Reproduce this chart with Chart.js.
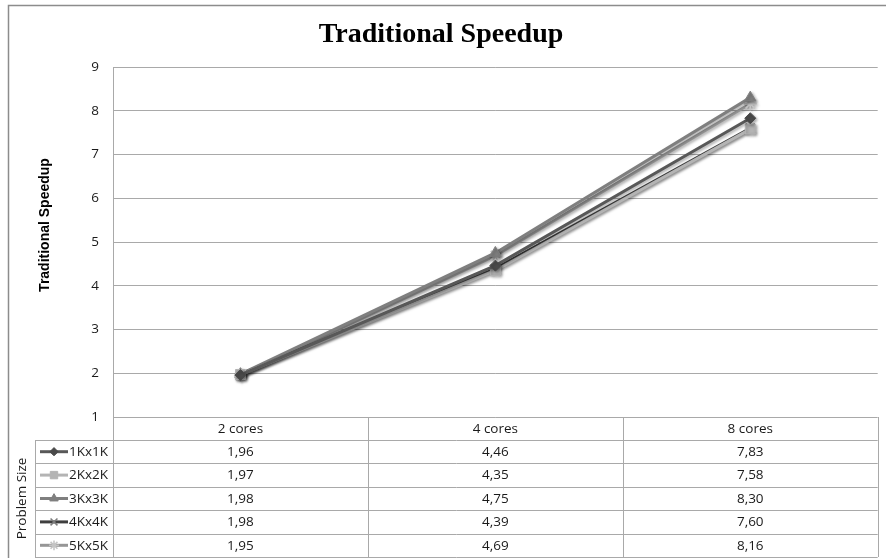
<!DOCTYPE html>
<html>
<head>
<meta charset="utf-8">
<script src="https://cdn.jsdelivr.net/npm/chart.js@4/dist/chart.umd.min.js"></script>
<style>
  html, body { margin: 0; padding: 0; background: #ffffff; }
  #wrap { width: 886px; height: 558px; position: relative; }
</style>
</head>
<body>
<div id="wrap"><canvas id="c" width="886" height="558"></canvas></div>
<script>
// Core counts along the x axis
const categories = ['2 cores', '4 cores', '8 cores'];

// Speedup per problem size
const size1K = [1.96, 4.46, 7.83];
const size2K = [1.97, 4.35, 7.58];
const size3K = [1.98, 4.75, 8.30];
const size4K = [1.98, 4.39, 7.60];
const size5K = [1.95, 4.69, 8.16];

const seriesNames = ['1Kx1K', '2Kx2K', '3Kx3K', '4Kx4K', '5Kx5K'];
const seriesValues = [size1K, size2K, size3K, size4K, size5K];

// y axis tick range
const yTicks = [1, 2, 3, 4, 5, 6, 7, 8, 9];

const lineColors   = ['#585858', '#b4b4b4', '#7f7f7f', '#3f3f3f', '#969696'];
const markerFill   = ['#4a4a4a', '#b4b4b4', '#7f7f7f', 'rgba(0,0,0,0)', '#c4c4c4'];
const markerStroke = ['#4a4a4a', '#b4b4b4', '#7f7f7f', '#7c7c7c', '#c4c4c4'];
const markerStyle  = ['rectRot', 'rect', 'triangle', 'crossRot', 'star'];
const markerRadius = [5.5, 7, 6.5, 6.5, 6.5];

const tableFont = '13.5px "Open Sans", "Noto Sans", sans-serif';
const axisTitleFont = 'bold 14px "Liberation Sans", Arial, sans-serif';
const gridColor = '#a9a9a9';
const fmt = v => v.toFixed(2).replace('.', ',');

const datasets = seriesNames.map((name, i) => ({
  label: name,
  data: seriesValues[i],
  borderColor: lineColors[i],
  backgroundColor: markerFill[i],
  borderWidth: 3,
  pointStyle: markerStyle[i],
  pointRadius: markerRadius[i],
  pointBackgroundColor: markerFill[i],
  pointBorderColor: markerStroke[i],
  pointBorderWidth: i === 3 || i === 4 ? 1.8 : 1,
  tension: 0,
  fill: false
}));

// soft drop shadow under the series lines
const shadowPlugin = {
  id: 'lineShadow',
  beforeDatasetsDraw(chart) {
    const ctx = chart.ctx;
    ctx.save();
    ctx.shadowColor = 'rgba(0,0,0,0.35)';
    ctx.shadowBlur = 3;
    ctx.shadowOffsetX = 1.5;
    ctx.shadowOffsetY = 1.5;
  },
  afterDatasetsDraw(chart) {
    chart.ctx.restore();
  }
};

// data table with legend keys under the plot, the y axis caption and the outer frame
const tablePlugin = {
  id: 'dataTable',
  afterDraw(chart) {
    const ctx = chart.ctx;
    const xs = chart.scales.x;
    const area = chart.chartArea;
    const top = area.bottom;
    const headerH = 23;
    const rowH = 23.4;
    const rowsTop = top + headerH;
    const bottom = rowsTop + rowH * seriesNames.length;
    const legendLeft = 35;
    const step = xs.getPixelForValue(1) - xs.getPixelForValue(0);

    ctx.save();
    ctx.strokeStyle = gridColor;
    ctx.lineWidth = 1;

    // horizontal rules
    ctx.beginPath();
    for (let r = 0; r <= seriesNames.length; r++) {
      const y = Math.round(rowsTop + r * rowH) + 0.5;
      ctx.moveTo(legendLeft, y);
      ctx.lineTo(area.right, y);
    }
    // vertical rules
    const colEdges = [area.left];
    categories.forEach((c, i) => colEdges.push(xs.getPixelForValue(i) + step / 2));
    colEdges.forEach(x => {
      const px = Math.round(x) + 0.5;
      ctx.moveTo(px, top);
      ctx.lineTo(px, bottom);
    });
    ctx.moveTo(legendLeft + 0.5, rowsTop);
    ctx.lineTo(legendLeft + 0.5, bottom);
    ctx.stroke();

    // header and values
    ctx.fillStyle = '#1a1a1a';
    ctx.font = tableFont;
    ctx.textAlign = 'center';
    ctx.textBaseline = 'middle';
    categories.forEach((c, i) => {
      const cx = xs.getPixelForValue(i);
      ctx.fillText(c, cx, top + headerH / 2 + 0.5);
      seriesValues.forEach((vals, r) => {
        ctx.fillText(fmt(vals[i]), cx, rowsTop + r * rowH + rowH / 2 + 0.5);
      });
    });

    // legend keys
    const drawPoint = Chart.helpers && Chart.helpers.drawPoint;
    seriesNames.forEach((name, r) => {
      const cy = rowsTop + r * rowH + rowH / 2;
      ctx.strokeStyle = lineColors[r];
      ctx.lineWidth = 3;
      ctx.beginPath();
      ctx.moveTo(40, cy);
      ctx.lineTo(68, cy);
      ctx.stroke();
      if (drawPoint) {
        ctx.fillStyle = markerFill[r];
        ctx.strokeStyle = markerStroke[r];
        ctx.lineWidth = r === 3 || r === 4 ? 1.5 : 1;
        drawPoint(ctx, {
          pointStyle: markerStyle[r],
          radius: markerRadius[r] * 0.75,
          borderWidth: ctx.lineWidth,
          rotation: 0
        }, 54, cy);
      }
      ctx.fillStyle = '#1a1a1a';
      ctx.textAlign = 'left';
      ctx.fillText(name, 69, cy + 0.5);
    });

    // side caption for the legend column
    ctx.save();
    ctx.translate(22, (rowsTop + bottom) / 2);
    ctx.rotate(-Math.PI / 2);
    ctx.textAlign = 'center';
    ctx.fillStyle = '#1a1a1a';
    ctx.fillText('Problem Size', 0, 0);
    ctx.restore();

    // y axis caption
    ctx.save();
    ctx.translate(45, 225);
    ctx.rotate(-Math.PI / 2);
    ctx.font = axisTitleFont;
    ctx.textAlign = 'center';
    ctx.fillStyle = '#000000';
    ctx.fillText('Traditional Speedup', 0, 0);
    ctx.restore();

    // outer frame
    ctx.strokeStyle = '#8c8c8c';
    ctx.lineWidth = 1.5;
    ctx.beginPath();
    ctx.moveTo(8.5, chart.height);
    ctx.lineTo(8.5, 5.5);
    ctx.lineTo(chart.width, 5.5);
    ctx.stroke();
    ctx.restore();
  }
};

new Chart(document.getElementById('c'), {
  type: 'line',
  data: { labels: categories, datasets },
  plugins: [shadowPlugin, tablePlugin],
  options: {
    responsive: false,
    animation: false,
    devicePixelRatio: 1,
    layout: { padding: { left: 0, right: 4, top: 0, bottom: 0 } },
    plugins: {
      legend: { display: false },
      tooltip: { enabled: false },
      title: {
        display: true,
        text: 'Traditional Speedup',
        color: '#000000',
        font: { family: '"Liberation Serif", "Times New Roman", serif', size: 28, weight: 'bold' },
        padding: { top: 18, bottom: 15.4 }
      }
    },
    scales: {
      x: {
        type: 'category',
        offset: true,
        grid: { display: false },
        border: { display: false },
        ticks: { display: false },
        afterFit(scale) { scale.height = 141; }
      },
      y: {
        min: yTicks[0],
        max: yTicks[yTicks.length - 1],
        afterFit(scale) { scale.width = 113; },
        afterBuildTicks(scale) { scale.ticks = yTicks.map(v => ({ value: v })); },
        grid: { color: gridColor, lineWidth: 1, drawTicks: false },
        border: { display: true, color: gridColor, width: 1 },
        ticks: {
          padding: 14,
          color: '#1a1a1a',
          font: { family: '"Open Sans", "Noto Sans", sans-serif', size: 13.5 }
        }
      }
    }
  }
});
</script>
</body>
</html>
